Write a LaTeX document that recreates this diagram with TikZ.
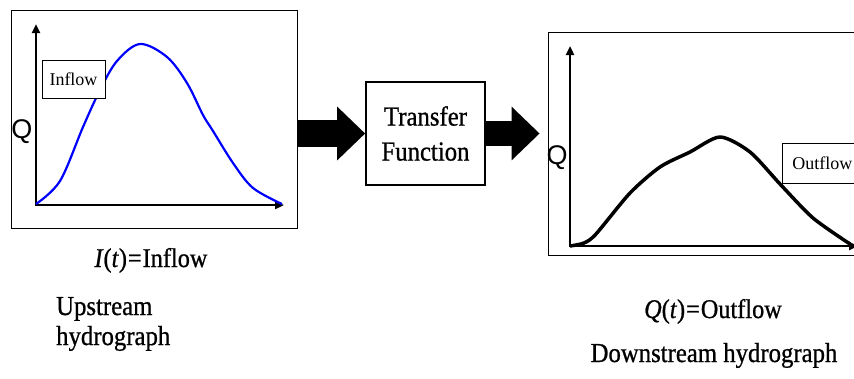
\documentclass[tikz,border=0pt]{standalone}
\usepackage{fontspec}
\setmainfont{Liberation Serif}
\newfontfamily\qfont{Liberation Sans}
\newfontfamily\headfont[FakeStretch=0.9,FakeBold=0.8]{Liberation Serif}
\usetikzlibrary{arrows.meta,positioning}

\begin{document}
\begin{tikzpicture}[x=1pt,y=-1pt,
    panel/.style={draw, line width=0.8pt, inner sep=0pt},
    axis/.style={line width=2.6pt, {Triangle[length=9pt,width=8pt]}-{Triangle[length=9pt,width=8pt]}},
    tag/.style={draw, fill=white, line width=0.8pt, font=\fontsize{18}{20}\selectfont, inner sep=0pt},
    qlbl/.style={font=\qfont\fontsize{27}{27}\selectfont, inner sep=0pt},
    fatarrow/.style={line width=27pt, -{Triangle[length=28pt,width=52pt]}},
    caption/.style={font=\headfont\fontsize{27}{31}\selectfont, inner sep=0pt},
    heading/.style={font=\headfont\fontsize{27.5}{30}\selectfont, inner sep=0pt}]
  \clip (0,0) rectangle (854,378);

  % upstream side
  \node[panel, minimum width=286, minimum height=218] (inpanel) at (154,119) {};
  \coordinate (o1) at (36,205);
  \draw[axis] (36,24) -- (o1) -- (284,205);
  \draw[blue, line width=2.2pt] plot[smooth, tension=0.55] coordinates {
    (36,204) (60,181) (83,127) (100,90) (117,61) (140,44) (167,57)
    (187,83) (203,115) (213,131) (233,163) (253,188) (282,204)};
  \node[tag, minimum width=63, minimum height=38] (intag) at (73.5,79) {Inflow};
  \node[qlbl] (q1) at (22,132) {Q};

  % the transfer box and the two fat arrows
  \node[draw, line width=1.6pt, minimum width=119, minimum height=103, align=center,
        font=\headfont\fontsize{27.5}{35}\selectfont] (tf) at (425.5,133.5) {Transfer\\Function};

  % downstream side
  \node[panel, minimum width=322, minimum height=223] (outpanel) at (709,143.5) {};
  \coordinate (o2) at (570,246);
  \draw[axis] (570,46) -- (o2) -- (858,246);
  \draw[line width=3.5pt, line join=round] plot[smooth, tension=0.45] coordinates {
    (570,246) (584,243) (596,234) (630,193) (660,167) (690,152) (720,137)
    (750,152) (780,184) (813,218) (850,244)};
  \node[tag, anchor=west, minimum height=40, text width=70, inner xsep=10] (outtag) at (782,163) {Outflow};
  \node[qlbl] (q2) at (557,158) {Q};

  \draw[fatarrow] (tf.west -| inpanel.east) -- (tf.west);
  \draw[fatarrow, line width=25pt, shorten >=8pt] (tf.east) -- (tf.east -| outpanel.west);

  % captions
  \node[caption, anchor=base] (inlbl) at (151,267) {\textit{I}(\textit{t})\kern1pt=\kern1pt Inflow};
  \node[heading, anchor=base west, align=left] (uphyd) at (56,345) {Upstream\\hydrograph};
  \node[caption, anchor=base] (outlbl) at (713,318) {\textit{Q}(\textit{t})\kern1pt=\kern1pt Outflow};
  \node[heading, anchor=base] (downhyd) at (714,362) {Downstream hydrograph};
\end{tikzpicture}
\end{document}
